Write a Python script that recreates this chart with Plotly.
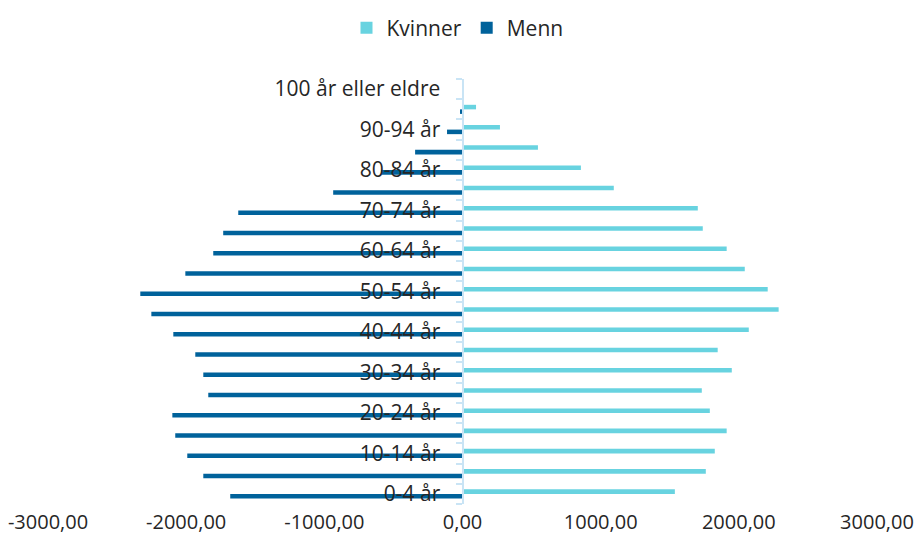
import plotly.graph_objects as go

# Age groups, youngest at the bottom of the pyramid
age_groups = [
    "0-4 år", "5-9 år", "10-14 år", "15-19 år", "20-24 år", "25-29 år",
    "30-34 år", "35-39 år", "40-44 år", "45-49 år", "50-54 år", "55-59 år",
    "60-64 år", "65-69 år", "70-74 år", "75-79 år", "80-84 år", "85-89 år",
    "90-94 år", "95-99 år", "100 år eller eldre",
]

# Women plotted to the right (positive values)
kvinner = [
    1537, 1761, 1826, 1912, 1790, 1732, 1949, 1847, 2072, 2288, 2209,
    2043, 1912, 1739, 1703, 1095, 857, 546, 271, 98, 8,
]

# Men plotted to the left (negative values)
menn = [
    -1681, -1876, -1992, -2079, -2100, -1840, -1876, -1934, -2093, -2252, -2332,
    -2006, -1804, -1732, -1623, -936, -589, -343, -112, -18, -2,
]

x_ticks = [-3000, -2000, -1000, 0, 1000, 2000, 3000]
x_tick_labels = [f"{v:.2f}".replace(".", ",") for v in x_ticks]

# Only every second age group gets a visible label
y_tick_labels = [g if i % 2 == 0 else "" for i, g in enumerate(age_groups)]

FONT = "Open Sans"
TEXT = "#262626"
AXIS_BLUE = "#C9E4F5"

fig = go.Figure()
fig.add_trace(go.Bar(
    y=age_groups, x=menn, orientation="h", name="Menn",
    marker=dict(color="#00629B", line=dict(width=0)),
))
fig.add_trace(go.Bar(
    y=age_groups, x=kvinner, orientation="h", name="Kvinner",
    marker=dict(color="#68D3E0", line=dict(width=0)),
))

fig.update_layout(
    width=915, height=543,
    margin=dict(l=48, r=38, t=79, b=39, autoexpand=False),
    paper_bgcolor="white", plot_bgcolor="white",
    barmode="group", bargap=0.55, bargroupgap=0,
    font=dict(family=FONT, size=20, color=TEXT),
    showlegend=True,
    legend=dict(
        orientation="h", traceorder="reversed",
        xref="container", yref="container",
        x=0.5, xanchor="center", y=1 - 28 / 543, yanchor="middle",
        font=dict(family=FONT, size=21, color=TEXT),
        itemwidth=30,
    ),
    xaxis=dict(
        range=[-3000, 3000], automargin=False,
        tickmode="array", tickvals=x_ticks, ticktext=x_tick_labels,
        showgrid=False, zeroline=False, showline=False, ticks="",
        ticklabelstandoff=4,
        tickfont=dict(family=FONT, size=20, color=TEXT),
    ),
    yaxis=dict(
        type="category", categoryorder="array", categoryarray=age_groups,
        range=[-0.5, len(age_groups) - 0.5], automargin=False,
        anchor="free", position=0.5,
        tickmode="array", tickvals=age_groups, ticktext=y_tick_labels,
        tickson="boundaries", ticks="outside", ticklen=6, tickwidth=1.5,
        tickcolor=AXIS_BLUE,
        showline=True, linecolor=AXIS_BLUE, linewidth=2,
        showgrid=False, zeroline=False,
        ticklabelstandoff=17,
        tickfont=dict(family=FONT, size=21, color=TEXT),
    ),
)

fig.write_html("out.html")
